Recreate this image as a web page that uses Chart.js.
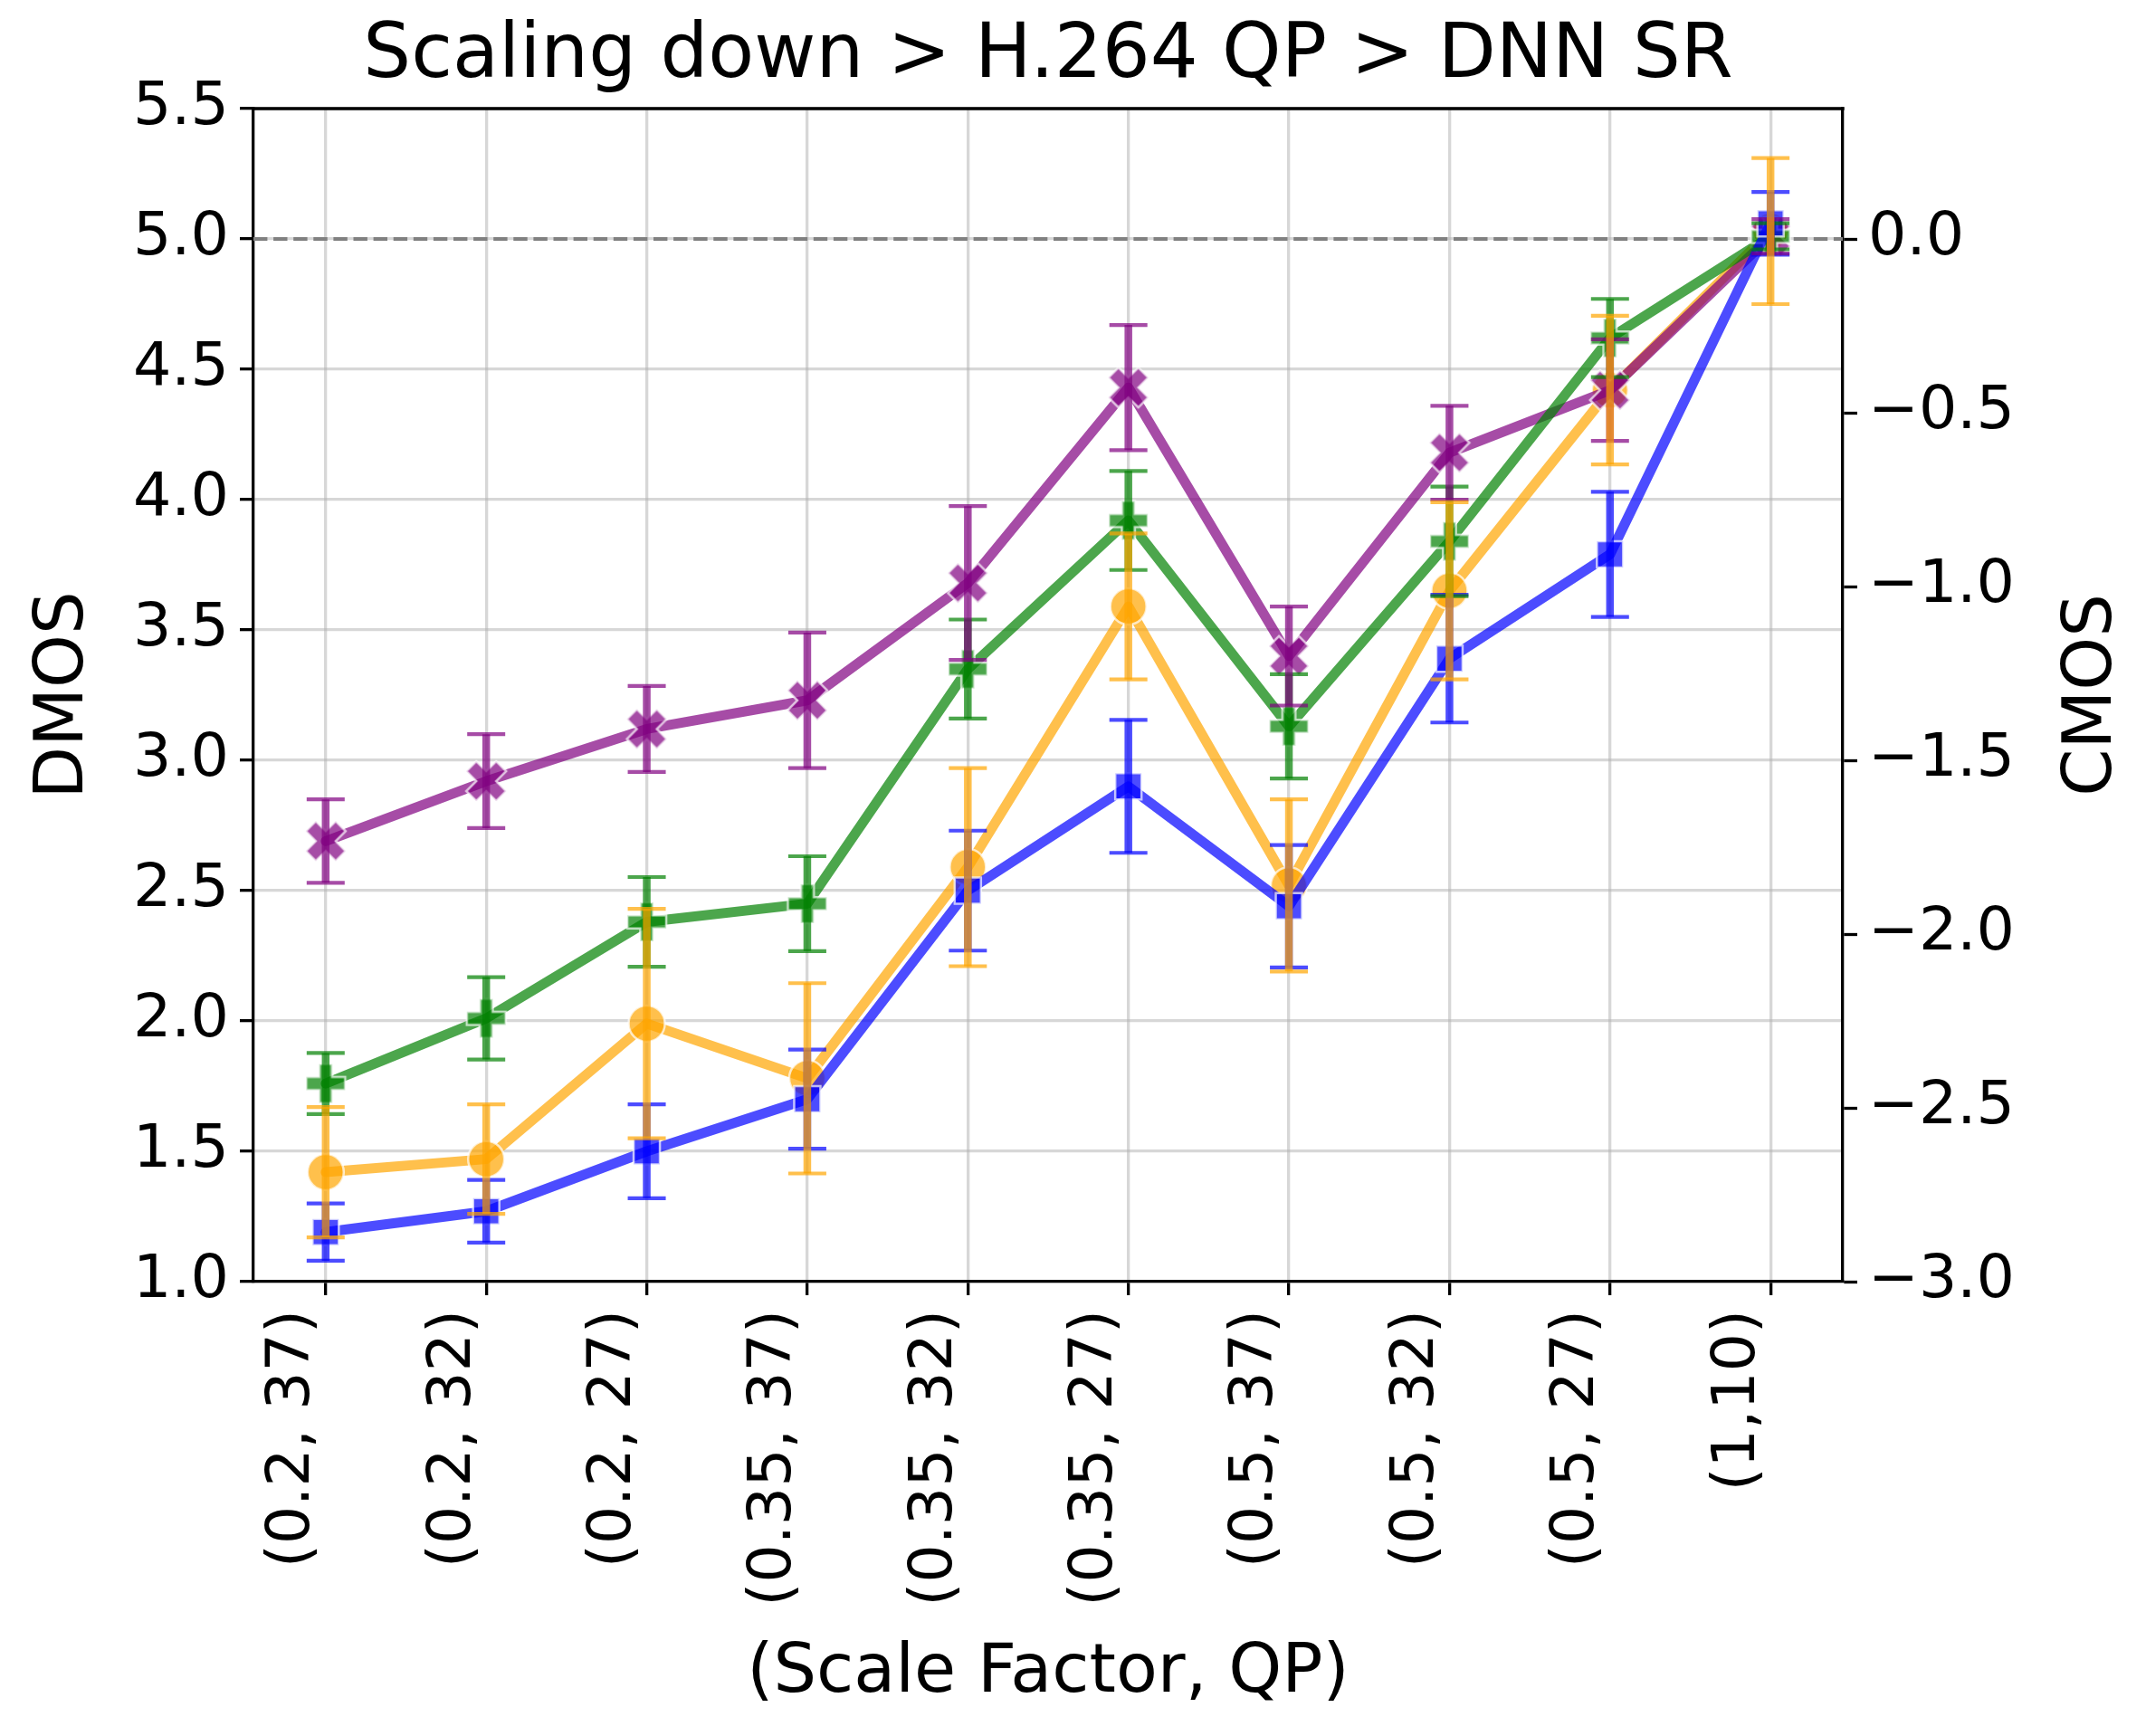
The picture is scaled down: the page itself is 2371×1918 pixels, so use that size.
<!DOCTYPE html>
<html>
<head>
<meta charset="utf-8">
<script src="https://cdn.jsdelivr.net/npm/chart.js@4.4.1/dist/chart.umd.min.js"></script>
<style>
html,body{margin:0;padding:0;background:#fff;}
canvas{display:block;}
</style>
</head>
<body>
<canvas id="c" width="2371" height="1918" style="width:2371px;height:1918px"></canvas>
<script>
// ---- data ----
const categories = ['(0.2, 37)', '(0.2, 32)', '(0.2, 27)', '(0.35, 37)', '(0.35, 32)', '(0.35, 27)', '(0.5, 37)', '(0.5, 32)', '(0.5, 27)', '(1,10)'];

const blueVals    = [1.19, 1.27, 1.50, 1.70, 2.50, 2.90, 2.44, 3.39, 3.79, 5.06];
const blueErr     = [0.11, 0.12, 0.18, 0.19, 0.23, 0.255, 0.235, 0.245, 0.24, 0.12];
const orangeVals  = [1.42, 1.47, 1.99, 1.78, 2.59, 3.59, 2.52, 3.65, 4.42, 5.03];
const orangeErr   = [0.25, 0.21, 0.44, 0.365, 0.38, 0.28, 0.33, 0.34, 0.285, 0.28];
const greenVals   = [1.76, 2.01, 2.38, 2.45, 3.35, 3.92, 3.13, 3.84, 4.62, 5.01];
const greenErr    = [0.117, 0.158, 0.172, 0.182, 0.19, 0.19, 0.2, 0.21, 0.15, 0.05];
const purpleVals  = [2.69, 2.92, 3.12, 3.23, 3.68, 4.43, 3.40, 4.18, 4.42, 5.01];
const purpleErr   = [0.16, 0.18, 0.165, 0.26, 0.295, 0.24, 0.19, 0.18, 0.195, 0.066];

const dmosTicks = [1.0, 1.5, 2.0, 2.5, 3.0, 3.5, 4.0, 4.5, 5.0, 5.5];
const cmosTicks = [-3.0, -2.5, -2.0, -1.5, -1.0, -0.5, 0.0];
const referenceLine = 5.0;

const titleText = 'Scaling down > H.264 QP > DNN SR';
const xTitle = '(Scale Factor, QP)';
const yLeftTitle = 'DMOS';
const yRightTitle = 'CMOS';

// ---- styling ----
const FONT = 'DejaVu Sans';
const COLORS = {
  blue: 'rgba(0,0,255,0.7)',
  orange: 'rgba(255,165,0,0.7)',
  green: 'rgba(0,128,0,0.7)',
  purple: 'rgba(128,0,128,0.7)'
};
const EDGE = 'rgba(255,255,255,0.7)';

function makeMarker(verts, unit, fill) {
  const size = Math.ceil(unit * 6 + 8);
  const c = document.createElement('canvas');
  c.width = size; c.height = size;
  const g = c.getContext('2d');
  g.translate(size / 2, size / 2);
  g.beginPath();
  verts.forEach((v, i) => { if (i === 0) g.moveTo(v[0] * unit, v[1] * unit); else g.lineTo(v[0] * unit, v[1] * unit); });
  g.closePath();
  g.fillStyle = fill; g.fill();
  g.strokeStyle = EDGE; g.lineWidth = 2.5; g.lineJoin = 'miter'; g.stroke();
  return c;
}
const plusShape = [[-1,-3],[1,-3],[1,-1],[3,-1],[3,1],[1,1],[1,3],[-1,3],[-1,1],[-3,1],[-3,-1],[-1,-1]];
const xShape = [[-1,-2],[0,-1],[1,-2],[2,-1],[1,0],[2,1],[1,2],[0,1],[-1,2],[-2,1],[-1,0],[-2,-1]];
const plusMarker = makeMarker(plusShape, 43 / 6, COLORS.green);
const xMarker = makeMarker(xShape, 44 / 4, COLORS.purple);

function toPts(vals) { return vals.map((v, i) => ({x: i, y: v})); }

function ds(label, vals, errs, color, style, radius, order) {
  return {
    label, data: toPts(vals), errors: errs,
    borderColor: color, backgroundColor: color, borderWidth: 11,
    borderJoinStyle: 'round', borderCapStyle: 'round',
    pointStyle: style, pointRadius: radius, pointBackgroundColor: color,
    pointBorderColor: EDGE, pointBorderWidth: 2.5, tension: 0, fill: false, order,
    yAxisID: 'y'
  };
}

// order: lower value is drawn on top
const datasets = [
  ds('Series blue', blueVals, blueErr, COLORS.blue, 'rect', 20.5, 1),
  ds('Series orange', orangeVals, orangeErr, COLORS.orange, 'circle', 20, 4),
  ds('Series green', greenVals, greenErr, COLORS.green, plusMarker, 20, 2),
  ds('Series purple', purpleVals, purpleErr, COLORS.purple, xMarker, 20, 3)
];
const errDrawOrder = [0, 2, 3, 1];

const extras = {
  id: 'extras',
  beforeDatasetsDraw(chart) {
    const {ctx, chartArea: a, scales: {y}} = chart;
    const py = y.getPixelForValue(referenceLine);
    ctx.save();
    ctx.strokeStyle = '#808080'; ctx.lineWidth = 4.2; ctx.setLineDash([15.4, 6.7]);
    ctx.beginPath(); ctx.moveTo(a.left, py); ctx.lineTo(a.right, py); ctx.stroke();
    ctx.restore();
  },
  afterDatasetsDraw(chart) {
    const {ctx, scales: {x, y}} = chart;
    ctx.save();
    ctx.lineCap = 'butt';
    errDrawOrder.forEach(k => {
      const d = chart.data.datasets[k];
      d.data.forEach((p, i) => {
        const px = x.getPixelForValue(p.x);
        const yt = y.getPixelForValue(p.y + d.errors[i]);
        const yb = y.getPixelForValue(p.y - d.errors[i]);
        ctx.strokeStyle = d.borderColor;
        ctx.lineWidth = 8.5;
        ctx.beginPath(); ctx.moveTo(px, yt); ctx.lineTo(px, yb); ctx.stroke();
        ctx.lineWidth = 4.2;
        ctx.beginPath();
        ctx.moveTo(px - 21, yt); ctx.lineTo(px + 21, yt);
        ctx.moveTo(px - 21, yb); ctx.lineTo(px + 21, yb);
        ctx.stroke();
      });
    });
    ctx.restore();
  },
  afterDraw(chart) {
    const {ctx, chartArea: a} = chart;
    ctx.save();
    ctx.strokeStyle = '#000'; ctx.lineWidth = 3.3;
    ctx.beginPath(); ctx.moveTo(a.left - 1.65, a.top); ctx.lineTo(a.right + 1.65, a.top); ctx.stroke();
    ctx.fillStyle = '#000';
    ctx.textAlign = 'center'; ctx.textBaseline = 'middle';
    // title, centred over the plot area
    ctx.font = '83.3px "' + FONT + '"';
    ctx.fillText(titleText, (a.left + a.right) / 2, 63);
    // right axis title, reading bottom to top
    ctx.translate(2313, (a.top + a.bottom) / 2);
    ctx.rotate(-Math.PI / 2);
    ctx.font = '75px "' + FONT + '"';
    ctx.fillText(yRightTitle, 0, 0);
    ctx.restore();
  }
};

const tickFont = {family: FONT, size: 66.7};
const fmt = v => (v < -1e-9 ? '\u2212' : '') + Math.abs(v).toFixed(1);

new Chart(document.getElementById('c'), {
  type: 'line',
  data: {datasets},
  plugins: [extras],
  options: {
    responsive: false, animation: false, devicePixelRatio: 1, events: [],
    layout: {padding: {top: 120, left: 0, right: 0, bottom: 0}},
    plugins: {
      legend: {display: false}, tooltip: {enabled: false},
      title: {display: false}
    },
    scales: {
      x: {
        type: 'linear', position: 'bottom', min: -0.45, max: 9.45,
        afterBuildTicks: s => { s.ticks = categories.map((_, i) => ({value: i})); },
        afterFit: s => { s.height = 502; },
        grid: {color: 'rgba(176,176,176,0.5)', lineWidth: 3.3, tickColor: '#000', tickWidth: 3.3, tickLength: 15},
        border: {display: true, color: '#000', width: 3.3},
        ticks: {callback: v => categories[v], font: tickFont, color: '#000', minRotation: 90, maxRotation: 90,
          autoSkip: false, padding: 16, labelOffset: -36},
        title: {display: true, text: xTitle, color: '#000', font: {family: FONT, size: 75}, padding: {top: 0, bottom: 23}}
      },
      y: {
        type: 'linear', position: 'left', min: 1.0, max: 5.5,
        afterBuildTicks: s => { s.ticks = dmosTicks.map(v => ({value: v})); },
        afterFit: s => { s.width = 280; },
        grid: {color: 'rgba(176,176,176,0.5)', lineWidth: 3.3, tickColor: '#000', tickWidth: 3.3, tickLength: 15},
        border: {display: true, color: '#000', width: 3.3},
        ticks: {callback: v => v.toFixed(1), font: tickFont, color: '#000', padding: 12},
        title: {display: true, text: yLeftTitle, color: '#000', font: {family: FONT, size: 75}, padding: {top: 27, bottom: 0}}
      },
      y2: {
        type: 'linear', position: 'right', min: -3.0, max: 0.375,
        afterBuildTicks: s => { s.ticks = cmosTicks.map(v => ({value: v})); },
        afterFit: s => { s.width = 335; },
        grid: {drawOnChartArea: false, tickColor: '#000', tickWidth: 3.3, tickLength: 16},
        border: {display: true, color: '#000', width: 3.3},
        ticks: {callback: v => fmt(v), font: tickFont, color: '#000', padding: 12},
        title: {display: false}
      }
    }
  }
});
</script>
</body>
</html>
